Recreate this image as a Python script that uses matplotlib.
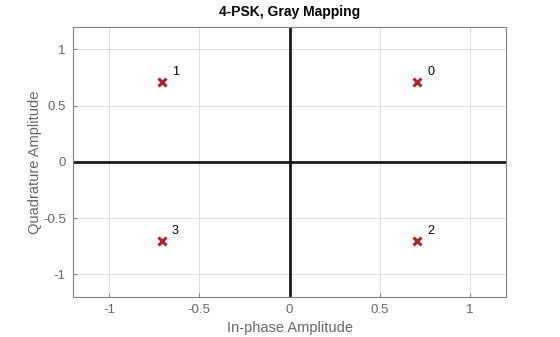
import numpy as np
import matplotlib.pyplot as plt

plt.rcParams['font.family'] = ['Liberation Sans', 'DejaVu Sans']

# constellation points (in-phase, quadrature) and their gray-coded symbols
i_vals = [0.7071, -0.7071, 0.7071, -0.7071]
q_vals = [0.7071, 0.7071, -0.7071, -0.7071]
symbols = ['0', '1', '2', '3']
ticks = [-1, -0.5, 0, 0.5, 1]
tick_labels = ['-1', '-0.5', '0', '0.5', '1']

fig = plt.figure(figsize=(5.6, 3.37), dpi=100)
ax = fig.add_axes([0.130, 0.119, 0.774, 0.801])

ax.axhline(0, color='#1a1a1a', lw=2, zorder=2)
ax.axvline(0, color='#1a1a1a', lw=2, zorder=2)

ax.plot(i_vals, q_vals, 'x', color='#b22222', ms=6, mew=2.2, ls='none', zorder=3)
for x, y, s in zip(i_vals, q_vals, symbols):
    ax.text(x + 0.055, y + 0.04, s, fontsize=9, color='black', va='bottom', ha='left')

ax.set_xlim(-1.2, 1.2)
ax.set_ylim(-1.2, 1.2)
ax.set_xticks(ticks)
ax.set_xticklabels(tick_labels)
ax.set_yticks(ticks)
ax.set_yticklabels(tick_labels)
ax.grid(True, color='#dcdcdc', lw=0.7, zorder=0)
ax.set_axisbelow(True)
ax.tick_params(direction='in', length=3, color='#808080', labelcolor='#666666', labelsize=9.5, pad=5)
for sp in ax.spines.values():
    sp.set_color('#808080')
    sp.set_linewidth(0.8)

ax.set_xlabel('In-phase Amplitude', fontsize=10.5, color='#666666', labelpad=4)
ax.set_ylabel('Quadrature Amplitude', fontsize=10.5, color='#666666', labelpad=1)
ax.set_title('4-PSK, Gray Mapping', fontsize=10, fontweight='bold', pad=8)

fig.savefig('out.png', dpi=100)
